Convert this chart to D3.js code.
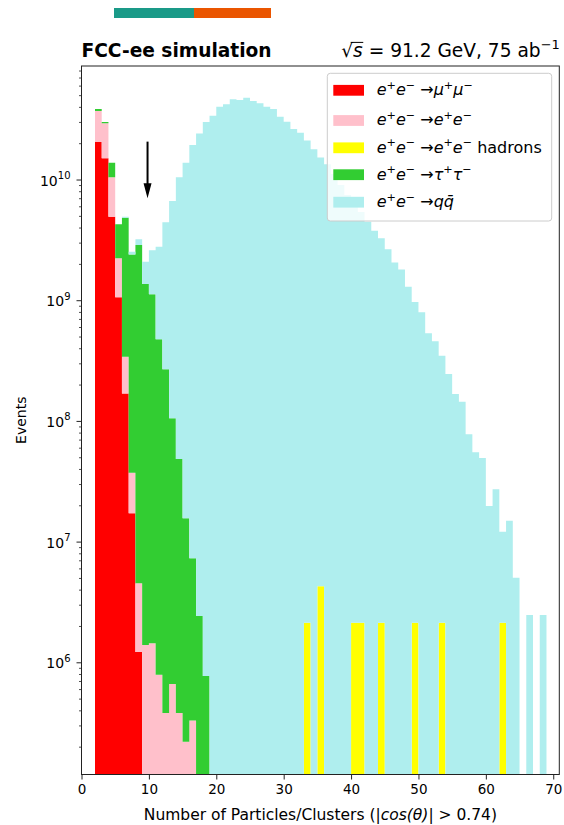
<!DOCTYPE html>
<html>
<head>
<meta charset="utf-8">
<script src="https://cdn.jsdelivr.net/npm/d3@7"></script>
<style>
  body { margin: 0; background: #fff; }
  svg { display: block; font-family: "DejaVu Sans", sans-serif; }
</style>
</head>
<body>
<svg id="chart" width="564" height="825"></svg>
<script>
// Lower edges of the unit-width multiplicity bins
const bins = [2, 3, 4, 5, 6, 7, 8, 9, 10, 11, 12, 13, 14, 15, 16, 17, 18, 19, 20, 21,
  22, 23, 24, 25, 26, 27, 28, 29, 30, 31, 32, 33, 34, 35, 36, 37, 38, 39, 40, 41,
  42, 43, 44, 45, 46, 47, 48, 49, 50, 51, 52, 53, 54, 55, 56, 57, 58, 59, 60, 61,
  62, 63, 64, 65, 66, 67, 68];

// Events per bin, each list starting at bin 2 (missing tail = 0)
const mumu = [2.06e10, 1.50e10, 4.92e9, 1.06e9, 1.69e8, 1.72e7, 1.22e6];
const ee = [1.64e10, 1.42e10, 5.50e9, 1.17e9, 1.71e8, 2.0e7, 3.29e6, 1.39e6, 1.44e6,
  7.9e5, 3.8e5, 6.6e5, 3.8e5, 2.2e5, 3.3e5];
const eehadBins = [33, 35, 40, 41, 44, 49, 53, 62];
const eehadVals = [2.13e6, 4.26e6, 2.13e6, 2.13e6, 2.13e6, 2.13e6, 2.13e6, 2.13e6];
const tautau = [1.39e9, 7.1e8, 3.36e9, 2.03e9, 4.48e9, 2.36e9, 2.86e9, 1.36e9, 1.12e9,
  4.73e8, 2.67e8, 1.044e8, 4.79e7, 1.54e7, 6.94e6, 2.42e6, 7.7e5];
const qq = [0, 0, 0, 0, 1.0e8, 1.2e8, 3.3e8, 7.2e8, 1.47e9, 2.30e9, 4.15e9, 6.53e9,
  1.037e10, 1.376e10, 1.93e10, 2.41e10, 2.99e10,
  3.38e10, 4.01e10, 4.20e10, 4.62e10, 4.56e10, 4.76e10, 4.47e10, 4.28e10, 4.01e10, 3.84e10, 3.31e10,
  3.01e10, 2.62e10, 2.44e10, 2.10e10, 1.78e10, 1.52e10, 1.34e10, 1.11e10, 9.0e9, 7.44e9,
  6.27e9, 5.38e9, 4.47e9, 3.77e9, 3.26e9, 2.64e9, 2.05e9, 1.80e9, 1.29e9, 9.66e8,
  7.94e8, 5.32e8, 4.57e8, 3.45e8, 2.45e8, 1.67e8, 1.44e8, 7.74e7, 5.50e7, 4.93e7,
  1.97e7, 2.71e7, 9.95e6, 1.49e7, 5.02e6, 0, 2.47e6, 0, 2.47e6];

const seriesKeys = ["mumu", "ee", "eehad", "tautau", "qq"];
const seriesColors = ["#ff0000", "#ffc0cb", "#ffff00", "#32cd32", "#afeeee"];
const xTicks = [0, 10, 20, 30, 40, 50, 60, 70];
const yMajorTicks = [1e6, 1e7, 1e8, 1e9, 1e10];

// Annotation arrow marking the selection cut
const cutX = 9.8, arrowFrom = 2.06e10, arrowTo = 6.98e9;

// Legend entries (same order as the stack) as [text, italic, superscript] runs
const legendLabels = [
  [["e", 1], ["+", 0, 1], ["e", 1], ["\u2212", 0, 1], [" \u2192", 0], ["\u03bc", 1], ["+", 0, 1], ["\u03bc", 1], ["\u2212", 0, 1]],
  [["e", 1], ["+", 0, 1], ["e", 1], ["\u2212", 0, 1], [" \u2192", 0], ["e", 1], ["+", 0, 1], ["e", 1], ["\u2212", 0, 1]],
  [["e", 1], ["+", 0, 1], ["e", 1], ["\u2212", 0, 1], [" \u2192", 0], ["e", 1], ["+", 0, 1], ["e", 1], ["\u2212", 0, 1], [" hadrons", 0]],
  [["e", 1], ["+", 0, 1], ["e", 1], ["\u2212", 0, 1], [" \u2192", 0], ["\u03c4", 1], ["+", 0, 1], ["\u03c4", 1], ["\u2212", 0, 1]],
  [["e", 1], ["+", 0, 1], ["e", 1], ["\u2212", 0, 1], [" \u2192", 0], ["q", 1], ["q\u0304", 1]]
];

// ---- geometry ----
const plot = { left: 81.5, right: 559.3, top: 66, bottom: 774.5 };
const yMin = 1.176e5, yMax = 8.72e10;

const svg = d3.select("#chart");

const x = d3.scaleLinear().domain([0, 70.9]).range([plot.left, plot.right]);
const y = d3.scaleLog().domain([yMin, yMax]).range([plot.bottom, plot.top]);

// ---- table and stacking ----
const table = bins.map((b, i) => ({
  bin: b,
  mumu: mumu[i] || 0,
  ee: ee[i] || 0,
  eehad: eehadBins.includes(b) ? eehadVals[eehadBins.indexOf(b)] : 0,
  tautau: tautau[i] || 0,
  qq: qq[i] || 0
}));
const stacked = d3.stack().keys(seriesKeys)(table);

svg.append("defs").append("clipPath").attr("id", "plotclip")
  .append("rect")
  .attr("x", plot.left).attr("y", plot.top)
  .attr("width", plot.right - plot.left).attr("height", plot.bottom - plot.top);

const clampY = v => y(Math.max(v, yMin));
const area = d3.area()
  .x(d => x(d.x))
  .y0(d => clampY(d.lo))
  .y1(d => clampY(d.hi))
  .curve(d3.curveStepAfter);

const histG = svg.append("g").attr("clip-path", "url(#plotclip)");
stacked.forEach((layer, li) => {
  const pts = layer.map(d => ({ x: d.data.bin, lo: d[0], hi: d[1] }));
  const last = pts[pts.length - 1];
  pts.push({ x: last.x + 1, lo: last.lo, hi: last.hi });
  histG.append("path")
    .attr("d", area(pts))
    .attr("fill", seriesColors[li]);
});

// ---- annotation arrow ----
const ax = x(cutX), ay0 = y(arrowFrom), ay1 = y(arrowTo);
const headLen = 15, headHalf = 4;
svg.append("line")
  .attr("x1", ax).attr("x2", ax)
  .attr("y1", ay0).attr("y2", ay1 - headLen + 1)
  .attr("stroke", "#000").attr("stroke-width", 2);
svg.append("path")
  .attr("d", `M${ax - headHalf},${ay1 - headLen}L${ax + headHalf},${ay1 - headLen}L${ax},${ay1}Z`)
  .attr("fill", "#000");

// ---- axes ----
const tickFont = "13.5px";
const xAxis = svg.append("g")
  .attr("transform", `translate(0,${plot.bottom})`)
  .call(d3.axisBottom(x).tickValues(xTicks).tickSize(5).tickPadding(4).tickFormat(d3.format("d")));
xAxis.select(".domain").remove();
xAxis.selectAll("line").attr("stroke", "#222");
xAxis.selectAll("text").attr("font-family", "DejaVu Sans").style("font-size", tickFont).attr("fill", "#000")
  .attr("dy", "0.76em");

const yAxis = svg.append("g")
  .attr("transform", `translate(${plot.left},0)`)
  .call(d3.axisLeft(y).tickValues(yMajorTicks).tickSize(5).tickFormat(""));
yAxis.select(".domain").remove();
yAxis.selectAll("line").attr("stroke", "#222");

const yMinor = [];
for (let e = 5; e <= 10; e++) {
  for (let k = 2; k <= 9; k++) {
    const v = k * Math.pow(10, e);
    if (v > yMin && v < yMax) yMinor.push(v);
  }
}
const yMinorAxis = svg.append("g")
  .attr("transform", `translate(${plot.left},0)`)
  .call(d3.axisLeft(y).tickValues(yMinor).tickSize(2.5).tickFormat(""));
yMinorAxis.select(".domain").remove();
yMinorAxis.selectAll("line").attr("stroke", "#222").attr("stroke-width", 0.8);

const yLabels = svg.append("g").style("font-size", "14px");
yMajorTicks.forEach(v => {
  const ex = Math.round(Math.log10(v));
  const t = yLabels.append("text")
    .attr("x", plot.left - 11).attr("y", y(v) + 6)
    .attr("text-anchor", "end");
  t.append("tspan").text("10");
  t.append("tspan").attr("dy", -6.5).style("font-size", "10px").text(ex);
});

// frame
svg.append("rect")
  .attr("x", plot.left).attr("y", plot.top)
  .attr("width", plot.right - plot.left).attr("height", plot.bottom - plot.top)
  .attr("fill", "none").attr("stroke", "#222").attr("stroke-width", 1);

// axis titles
const xTitle = svg.append("text")
  .attr("x", (plot.left + plot.right) / 2).attr("y", 819.5)
  .attr("text-anchor", "middle").style("font-size", "15.5px");
xTitle.append("tspan").text("Number of Particles/Clusters (|");
xTitle.append("tspan").attr("font-style", "italic").text("cos(\u03b8)");
xTitle.append("tspan").text("| > 0.74)");

svg.append("text")
  .attr("transform", `translate(26,${(plot.top + plot.bottom) / 2}) rotate(-90)`)
  .attr("text-anchor", "middle").style("font-size", "14px")
  .text("Events");

// ---- titles ----
svg.append("text")
  .attr("x", plot.left).attr("y", 57)
  .attr("font-weight", "bold").style("font-size", "18.6px")
  .text("FCC-ee simulation");

const rt = svg.append("text")
  .attr("x", plot.right + 0.5).attr("y", 57)
  .attr("text-anchor", "end").style("font-size", "18.6px");
rt.append("tspan").text("\u221a");
rt.append("tspan").attr("font-style", "italic").text("s");
rt.append("tspan").text(" = 91.2 GeV, 75 ab");
rt.append("tspan").attr("dy", -8).style("font-size", "13px").text("\u22121");
const rNode = rt.node();
const radExt = rNode.getExtentOfChar(0);
const sExt = rNode.getExtentOfChar(1);
svg.append("line")
  .attr("x1", radExt.x + radExt.width * 0.8).attr("x2", sExt.x + sExt.width + 0.5)
  .attr("y1", 57 - 14.6).attr("y2", 57 - 14.6)
  .attr("stroke", "#000").attr("stroke-width", 1);

// ---- legend ----
const lg = svg.append("g");
lg.append("rect")
  .attr("x", 327.3).attr("y", 73.3).attr("width", 224.4).attr("height", 147.7)
  .attr("rx", 3).attr("fill", "#fff").attr("fill-opacity", 0.8)
  .attr("stroke", "#cccccc").attr("stroke-width", 1);
const rowCenters = [90.3, 120.5, 147.8, 174.7, 202.2];
legendLabels.forEach((runs, r) => {
  const cy = rowCenters[r];
  lg.append("rect")
    .attr("x", 333.3).attr("y", cy - 5.4).attr("width", 30.7).attr("height", 10.8)
    .attr("fill", seriesColors[r]);
  const t = lg.append("text").attr("x", 376.7).attr("y", cy + 4.8).style("font-size", "16px");
  let raised = false;
  runs.forEach(([txt, it, sup]) => {
    const sp = t.append("tspan").text(txt);
    if (it) sp.attr("font-style", "italic");
    if (sup && !raised) { sp.attr("dy", -6.5).style("font-size", "11.2px"); raised = true; }
    else if (sup && raised) { sp.style("font-size", "11.2px"); }
    else if (!sup && raised) { sp.attr("dy", 6.5); raised = false; }
  });
});

// ---- header bar ----
svg.append("rect").attr("x", 114).attr("y", 8).attr("width", 80).attr("height", 10).attr("fill", "#1a9a88");
svg.append("rect").attr("x", 194).attr("y", 8).attr("width", 77).attr("height", 10).attr("fill", "#ea5500");
</script>
</body>
</html>
